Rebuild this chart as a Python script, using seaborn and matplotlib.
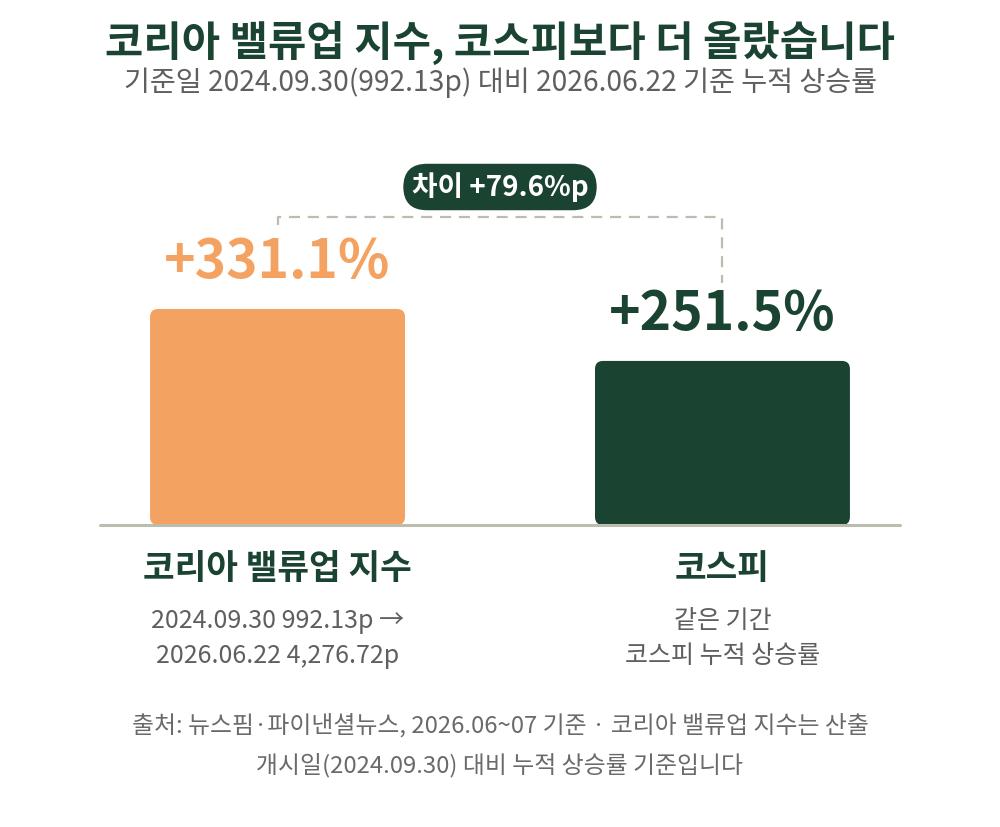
import matplotlib
matplotlib.use("Agg")
import matplotlib.pyplot as plt
import seaborn as sns
import pandas as pd
from matplotlib.patches import FancyBboxPatch

# données
categories = ["코리아 밸류업 지수", "코스피"]
gains = [331.1, 251.5]
value_labels = ["+331.1%", "+251.5%"]
sub_labels = [["2024.09.30 992.13p →", "2026.06.22 4,276.72p"],
              ["같은 기간", "코스피 누적 상승률"]]
diff_label = "차이 +79.6%p"

title = "코리아 밸류업 지수, 코스피보다 더 올랐습니다"
subtitle = "기준일 2024.09.30(992.13p) 대비 2026.06.22 기준 누적 상승률"
footer = ["출처: 뉴스핌·파이낸셜뉴스, 2026.06~07 기준 · 코리아 밸류업 지수는 산출",
          "개시일(2024.09.30) 대비 누적 상승률 기준입니다"]

ORANGE = "#F4A261"
GREEN = "#1B4332"
GREY = "#5f5f5f"
LINE = "#BDBDAF"

sns.set_theme(style="white")
plt.rcParams['font.family'] = ['Noto Sans CJK KR', 'DejaVu Sans']

fig = plt.figure(figsize=(10, 8.27), dpi=100)
# axes : ligne de base à y=525 px, largeur 100-900 px
ax = fig.add_axes([0.1, 1 - 525 / 827, 0.8, 405 / 827])

df = pd.DataFrame({"cat": categories, "val": gains})
sns.barplot(data=df, x="cat", y="val", hue="cat", palette=[ORANGE, GREEN],
            saturation=1, width=0.573, legend=False, ax=ax)

ax.set_xlim(-0.399, 1.399)
ax.set_ylim(0, 620.8)

# barres arrondies
for p in list(ax.patches):
    x, y = p.get_x(), p.get_y()
    w, h = p.get_width(), p.get_height()
    fc = p.get_facecolor()
    p.remove()
    ax.add_patch(FancyBboxPatch((x, y), w, h,
                                boxstyle="round,pad=0,rounding_size=0.018",
                                mutation_aspect=683, fc=fc, ec="none", zorder=2))

ax.axhline(0, color=LINE, lw=2.2, zorder=3, clip_on=False)
ax.set_axis_off()

# étiquettes de valeur
for i, (v, lab) in enumerate(zip(gains, value_labels)):
    ax.annotate(lab, (i, v), xytext=(0, 22), textcoords="offset points",
                ha="center", va="baseline", fontsize=38.5, fontweight="bold",
                color=[ORANGE, GREEN][i])

# catégories + sous-textes
for i, cat in enumerate(categories):
    ax.annotate(cat, (i, 0), xytext=(0, -31), textcoords="offset points",
                ha="center", va="center", fontsize=24.8, fontweight="bold",
                color=GREEN, annotation_clip=False)
    for j, s in enumerate(sub_labels[i]):
        ax.annotate(s, (i, 0), xytext=(0, -69 - 25 * j), textcoords="offset points",
                    ha="center", va="center", fontsize=18, color=GREY,
                    annotation_clip=False)

# connecteur en pointillés
top = max(gains) + 141
ax.plot([0, 0, 1, 1], [gains[0] + 129, top, top, gains[1] + 119.5],
        color=LINE, lw=1.6, ls=(0, (5, 3.5)), clip_on=False, zorder=1)
ax.text(0.5, top + 46, diff_label, ha="center", va="center", fontsize=20,
        fontweight="bold", color="white",
        bbox=dict(boxstyle="round,pad=0.3,rounding_size=0.85", fc=GREEN, ec="none"))

# titres
fig.text(0.5, 1 - 43 / 827, title, ha="center", va="center", fontsize=30,
         fontweight="bold", color=GREEN)
fig.text(0.5, 1 - 83 / 827, subtitle, ha="center", va="center", fontsize=20.3,
         color=GREY)
fig.text(0.5, 1 - 725 / 827, footer[0], ha="center", va="center", fontsize=17.2,
         color="#6a6a6a")
fig.text(0.5, 1 - 765 / 827, footer[1], ha="center", va="center", fontsize=17.2,
         color="#6a6a6a")

fig.savefig("out.png", dpi=100, facecolor="white")
